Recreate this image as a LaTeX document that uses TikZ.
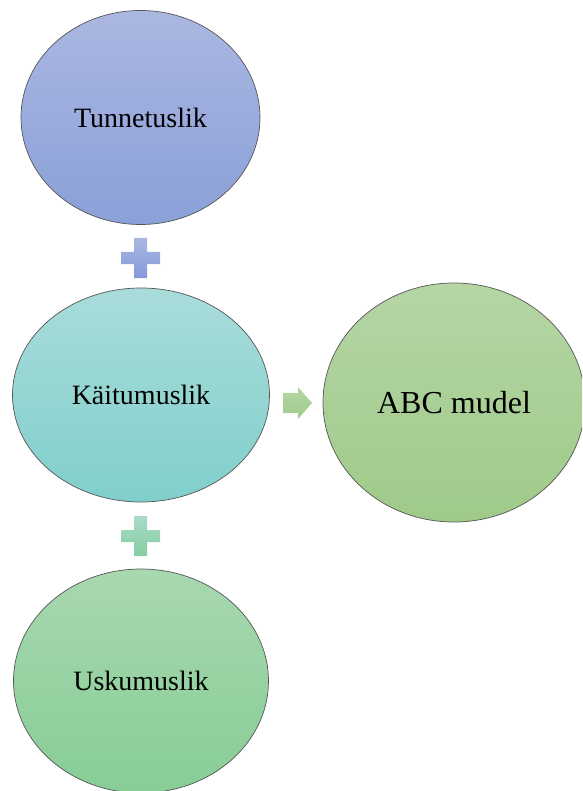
\documentclass[tikz,border=0pt]{standalone}
\usepackage{fontspec}
\setmainfont{Liberation Serif}
\usetikzlibrary{shapes.geometric}
\definecolor{bluetop}{HTML}{AAB7E1}
\definecolor{bluebot}{HTML}{8AA0D8}
\definecolor{tealtop}{HTML}{A9DCDA}
\definecolor{tealbot}{HTML}{80CFCB}
\definecolor{greentop}{HTML}{B5D5A5}
\definecolor{greenbot}{HTML}{9FCA89}
\definecolor{mintop}{HTML}{A8D8B0}
\definecolor{minbot}{HTML}{87CD96}
\definecolor{edge}{HTML}{555555}
\tikzset{
  blob/.style={ellipse, draw=edge, line width=0.7pt, inner sep=0pt, font=\fontsize{28}{32}\selectfont},
}
\begin{document}
\begin{tikzpicture}[x=1pt,y=-1pt]
\useasboundingbox (0,0) rectangle (582,791);
\clip (0,0) rectangle (582,791);
\node[blob, minimum width=239pt, minimum height=214pt, top color=bluetop, bottom color=bluebot] (tun) at (140.5,117.5) {Tunnetuslik};
\node[blob, minimum width=257pt, minimum height=214pt, top color=tealtop, bottom color=tealbot] (kai) at (141,395) {Käitumuslik};
\node[blob, minimum width=262pt, minimum height=239pt, top color=greentop, bottom color=greenbot, font=\fontsize{32}{36}\selectfont] (abc) at (454,402.5) {ABC mudel};
\node[blob, minimum width=255pt, minimum height=224pt, top color=mintop, bottom color=minbot] (usk) at (141,681) {Uskumuslik};
% plus signs
\coordinate (p1) at (140.5,258);
\coordinate (p2) at (140.5,536);
\shade[top color=bluetop, bottom color=bluebot!95!blue]
  ([shift={(-6.5,-20)}]p1) -- ([shift={(6.5,-20)}]p1) -- ([shift={(6.5,-6)}]p1) -- ([shift={(19.5,-6)}]p1)
  -- ([shift={(19.5,6)}]p1) -- ([shift={(6.5,6)}]p1) -- ([shift={(6.5,20)}]p1) -- ([shift={(-6.5,20)}]p1)
  -- ([shift={(-6.5,6)}]p1) -- ([shift={(-19.5,6)}]p1) -- ([shift={(-19.5,-6)}]p1) -- ([shift={(-6.5,-6)}]p1) -- cycle;
\shade[top color=tealtop!60!mintop, bottom color=minbot!80!tealbot]
  ([shift={(-6.5,-20)}]p2) -- ([shift={(6.5,-20)}]p2) -- ([shift={(6.5,-6)}]p2) -- ([shift={(19.5,-6)}]p2)
  -- ([shift={(19.5,6)}]p2) -- ([shift={(6.5,6)}]p2) -- ([shift={(6.5,20)}]p2) -- ([shift={(-6.5,20)}]p2)
  -- ([shift={(-6.5,6)}]p2) -- ([shift={(-19.5,6)}]p2) -- ([shift={(-19.5,-6)}]p2) -- ([shift={(-6.5,-6)}]p2) -- cycle;
% arrow
\coordinate (ar) at (283,403);
\shade[top color=greentop, bottom color=greenbot!90!mintop]
  ([shift={(0,-10)}]ar) -- ([shift={(15,-10)}]ar) -- ([shift={(15,-16)}]ar) -- ([shift={(29,0)}]ar)
  -- ([shift={(15,16)}]ar) -- ([shift={(15,10)}]ar) -- ([shift={(0,10)}]ar) -- cycle;
\end{tikzpicture}
\end{document}
